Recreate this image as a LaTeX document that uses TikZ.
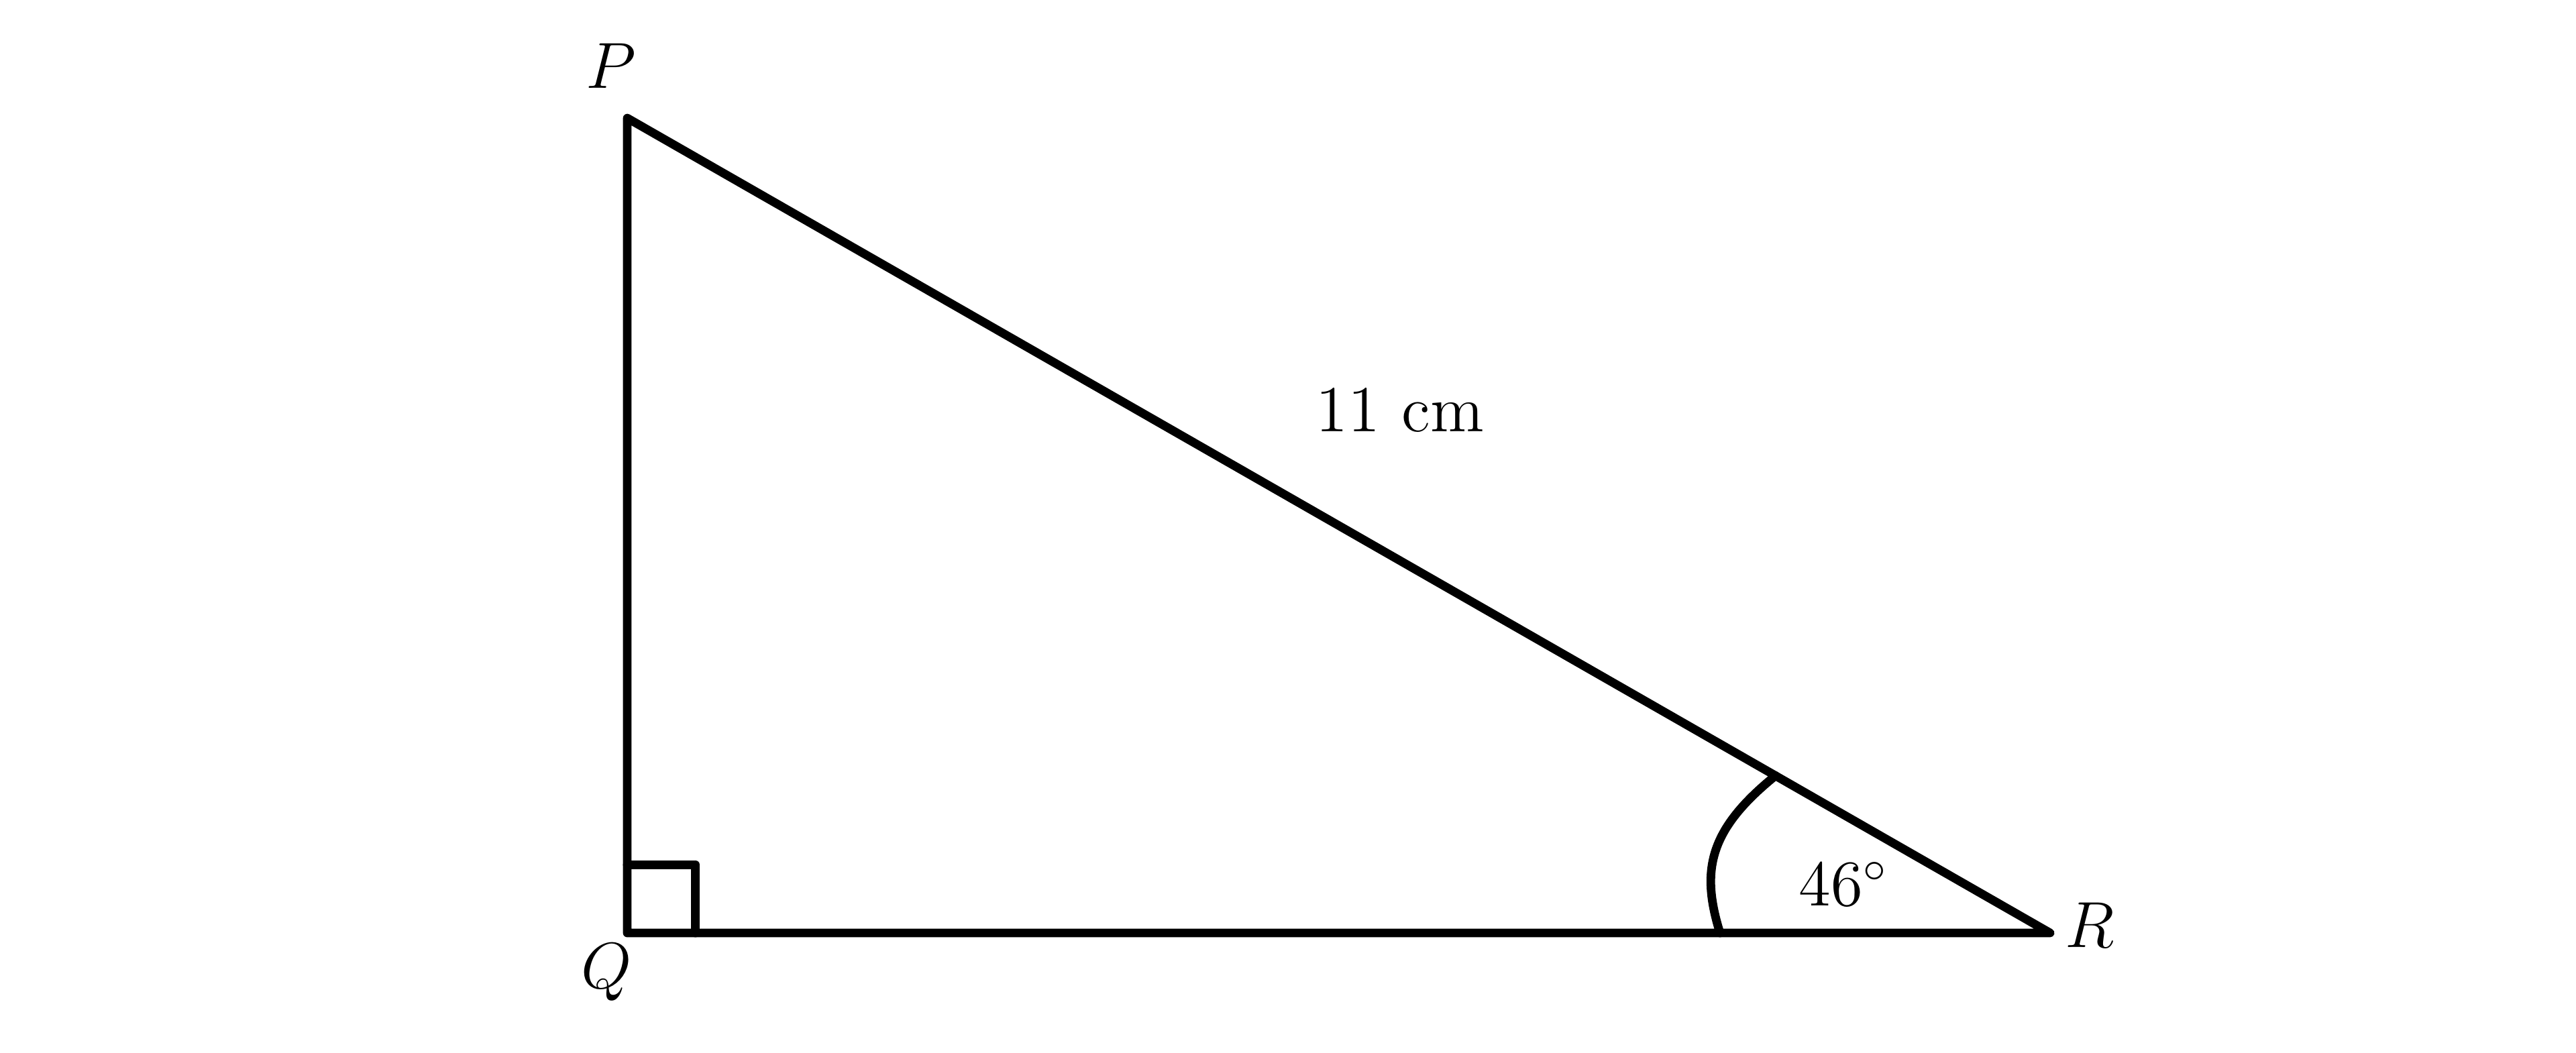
\documentclass[tikz,border=0pt]{standalone}
\usetikzlibrary{calc}
\begin{document}
\begin{tikzpicture}[line width=1.9pt,line join=round,line cap=round,
  font=\fontsize{14.5}{17}\selectfont]
\useasboundingbox (0,0) rectangle (20,8.177);

\coordinate (P) at (4.870,7.260);
\coordinate (Q) at (4.870,0.932);
\coordinate (R) at (15.917,0.932);
\draw (P) -- (Q) -- (R) -- cycle;

\draw (Q) ++(0,0.53) coordinate (qa) -- ++(0.53,0) coordinate (qb) -- ++(0,-0.53);

\coordinate (arcA) at ($(R)!0.193!(P)$);
\coordinate (arcB) at ($(R)!0.232!(Q)$);
\draw (arcA) .. controls (13.266,1.734) and (13.203,1.417) .. (arcB);

\node (labP) at (4.745,7.667) {$P$};
\node (labQ) at (4.708,0.625) {$Q$};
\node (labR) at (16.224,0.995) {$R$};
\node (side) at (10.870,4.990) {11 cm};
\node (ang) at (14.313,1.313) {$46^\circ$};
\end{tikzpicture}
\end{document}
